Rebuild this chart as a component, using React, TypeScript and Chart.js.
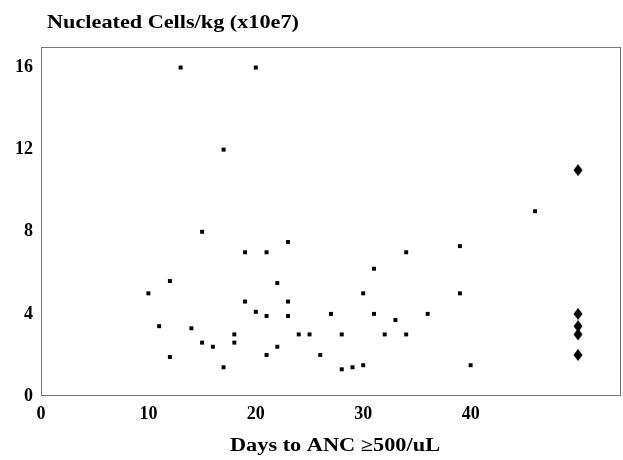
import React, { useEffect, useRef } from "react";
import { Chart, registerables } from "chart.js";

Chart.register(...registerables);

const chartTitle = "Nucleated Cells/kg (x10e7)";
const xAxisTitle = "Days to ANC \u2265500/uL";
const xTickValues = [0, 10, 20, 30, 40];
const yTickValues = [0, 4, 8, 12, 16];

const daysX = [10, 11, 12, 12, 13, 14, 15, 15, 16, 17, 17, 18, 18, 19, 19, 20, 20, 21, 21, 21, 22, 22, 23, 23, 23, 24, 25, 26, 27, 28, 28, 29, 30, 30, 31, 31, 32, 33, 34, 34, 36, 39, 39, 40, 46];
const cellsY = [5.0, 3.4, 5.6, 1.9, 16, 3.3, 8.0, 2.6, 2.4, 12, 1.4, 3.0, 2.6, 7.0, 4.6, 4.1, 16, 7.0, 3.9, 2.0, 5.5, 2.4, 7.5, 4.6, 3.9, 3.0, 3.0, 2.0, 4.0, 3.0, 1.3, 1.4, 1.5, 5.0, 6.2, 4.0, 3.0, 3.7, 7.0, 3.0, 4.0, 7.3, 5.0, 1.5, 9.0];

const notEngraftedX = [50, 50, 50, 50, 50];
const notEngraftedY = [11, 4.0, 3.4, 3.0, 2.0];

function makeDiamond(): HTMLCanvasElement {
  const c = document.createElement("canvas");
  c.width = 10;
  c.height = 12;
  const g = c.getContext("2d")!;
  g.fillStyle = "#000";
  g.beginPath();
  g.moveTo(5, 0);
  g.lineTo(9.5, 6);
  g.lineTo(5, 12);
  g.lineTo(0.5, 6);
  g.closePath();
  g.fill();
  return c;
}

function drawStretched(ctx: CanvasRenderingContext2D, text: string, cx: number, baseline: number, font: string, sx: number) {
  ctx.save();
  ctx.font = font;
  ctx.textAlign = "center";
  ctx.textBaseline = "alphabetic";
  ctx.translate(cx, baseline);
  ctx.scale(sx, 1);
  ctx.fillText(text, 0, 0);
  ctx.restore();
}

export default function App() {
  const ref = useRef<HTMLCanvasElement | null>(null);
  useEffect(() => {
    if (!ref.current) return;
    const family = "'Liberation Serif', 'Times New Roman', serif";
    const framePlugin = {
      id: "frameAndTitle",
      afterDraw(chart: any) {
        const { ctx, chartArea } = chart;
        ctx.save();
        ctx.strokeStyle = "#777";
        ctx.lineWidth = 1;
        ctx.strokeRect(chartArea.left + 0.5, chartArea.top + 0.5, chartArea.right - chartArea.left - 1, chartArea.bottom - chartArea.top - 1);
        ctx.fillStyle = "#000";
        drawStretched(ctx, chartTitle, 173, 28, `bold 19px ${family}`, 1.17);
        drawStretched(ctx, xAxisTitle, 335, 451, `bold 18px ${family}`, 1.24);
        ctx.restore();
      },
    };
    const chart = new Chart(ref.current, {
      type: "scatter",
      data: {
        datasets: [
          {
            data: daysX.map((x, i) => ({ x, y: cellsY[i] })),
            pointStyle: "rect",
            pointRadius: 2.8,
            borderWidth: 0,
            backgroundColor: "#000",
            borderColor: "#000",
          },
          {
            data: notEngraftedX.map((x, i) => ({ x, y: notEngraftedY[i] })),
            pointStyle: makeDiamond(),
            pointRadius: 6,
            backgroundColor: "#000",
            borderColor: "#000",
          },
        ],
      },
      plugins: [framePlugin],
      options: {
        animation: false,
        responsive: false,
        layout: { autoPadding: false, padding: { top: 47, right: 2, left: 0, bottom: 0 } },
        plugins: { legend: { display: false }, tooltip: { enabled: false }, title: { display: false } },
        scales: {
          x: {
            type: "linear",
            min: 0,
            max: 54,
            afterBuildTicks: (axis: any) => {
              axis.ticks = xTickValues.map((v) => ({ value: v }));
            },
            afterFit: (scale: any) => {
              scale.height = 64;
            },
            grid: { display: false, drawTicks: false },
            border: { display: false },
            ticks: { color: "#000", padding: 8, font: { family, size: 18, weight: "bold" }, maxRotation: 0 },
          },
          y: {
            type: "linear",
            min: 0,
            max: 17,
            afterBuildTicks: (axis: any) => {
              axis.ticks = yTickValues.map((v) => ({ value: v }));
            },
            afterFit: (scale: any) => {
              scale.width = 41;
            },
            grid: { display: false, drawTicks: false },
            border: { display: false },
            ticks: { color: "#000", padding: 8, font: { family, size: 18, weight: "bold" } },
          },
        },
      },
    });
    return () => chart.destroy();
  }, []);
  return (
    <div style={{ position: "fixed", left: 0, top: 0, width: 623, height: 460, background: "#fff" }}>
      <canvas ref={ref} width={623} height={460} style={{ width: 623, height: 460 }} />
    </div>
  );
}
